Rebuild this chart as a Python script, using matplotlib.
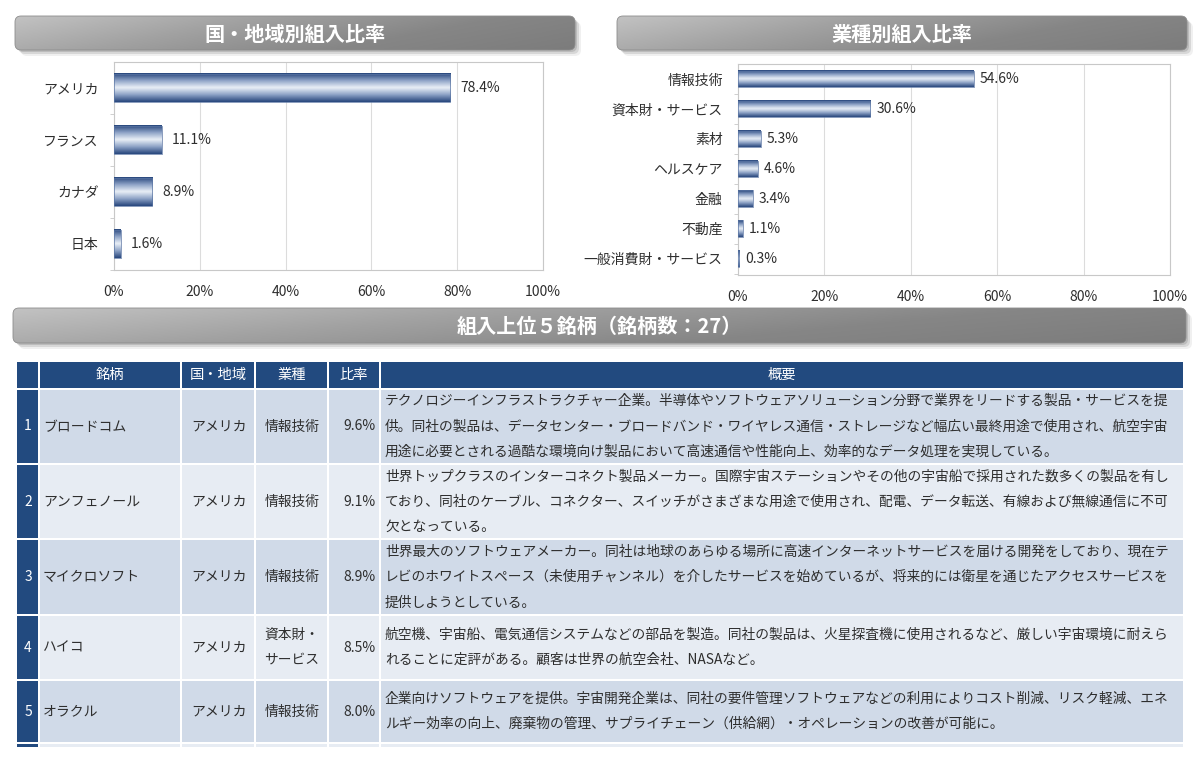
import numpy as np
import matplotlib
matplotlib.use("Agg")
import matplotlib.pyplot as plt
from matplotlib.colors import LinearSegmentedColormap
from matplotlib.patches import FancyBboxPatch, Rectangle
from matplotlib.ticker import FixedLocator, PercentFormatter

plt.rcParams['font.family'] = ['Noto Sans CJK JP', 'DejaVu Sans']

# data
regions = ['アメリカ', 'フランス', 'カナダ', '日本']
region_pct = [78.4, 11.1, 8.9, 1.6]

sectors = ['情報技術', '資本財・サービス', '素材', 'ヘルスケア', '金融', '不動産', '一般消費財・サービス']
sector_pct = [54.6, 30.6, 5.3, 4.6, 3.4, 1.1, 0.3]

top_names = ['ブロードコム', 'アンフェノール', 'マイクロソフト', 'ハイコ', 'オラクル']
top_countries = ['アメリカ', 'アメリカ', 'アメリカ', 'アメリカ', 'アメリカ']
top_sectors = ['情報技術', '情報技術', '情報技術', '資本財・\nサービス', '情報技術']
top_weights = [9.6, 9.1, 8.9, 8.5, 8.0]
top_desc = [
    ['テクノロジーインフラストラクチャー企業。半導体やソフトウェアソリューション分野で業界をリードする製品・サービスを提',
     '供。同社の製品は、データセンター・ブロードバンド・ワイヤレス通信・ストレージなど幅広い最終用途で使用され、航空宇宙',
     '用途に必要とされる過酷な環境向け製品において高速通信や性能向上、効率的なデータ処理を実現している。'],
    ['世界トップクラスのインターコネクト製品メーカー。国際宇宙ステーションやその他の宇宙船で採用された数多くの製品を有し',
     'ており、同社のケーブル、コネクター、スイッチがさまざまな用途で使用され、配電、データ転送、有線および無線通信に不可',
     '欠となっている。'],
    ['世界最大のソフトウェアメーカー。同社は地球のあらゆる場所に高速インターネットサービスを届ける開発をしており、現在テ',
     'レビのホワイトスペース（未使用チャンネル）を介したサービスを始めているが、将来的には衛星を通じたアクセスサービスを',
     '提供しようとしている。'],
    ['航空機、宇宙船、電気通信システムなどの部品を製造。同社の製品は、火星探査機に使用されるなど、厳しい宇宙環境に耐えら',
     'れることに定評がある。顧客は世界の航空会社、NASAなど。'],
    ['企業向けソフトウェアを提供。宇宙開発企業は、同社の要件管理ソフトウェアなどの利用によりコスト削減、リスク軽減、エネ',
     'ルギー効率の向上、廃棄物の管理、サプライチェーン（供給網）・オペレーションの改善が可能に。'],
]

W, H = 1200, 762
TXT = '#2e2e2e'
NAVY = '#224a7f'

fig = plt.figure(figsize=(W / 100, H / 100), dpi=100)
bg = fig.add_axes([0, 0, 1, 1])
bg.set_xlim(0, W)
bg.set_ylim(H, 0)
bg.axis('off')

gray_cmap = LinearSegmentedColormap.from_list('hdr', ['#c2c2c2', '#a2a2a2', '#868686', '#7c7c7c'])
bar_cmap = LinearSegmentedColormap.from_list('bar', ['#27467c', '#8da2c6', '#eaf0f7', '#8da2c6', '#27467c'])


def header(x0, y0, x1, y1, text):
    w, h = x1 - x0, y1 - y0
    for off, a in [(6, 0.06), (4, 0.10), (2, 0.12)]:
        bg.add_patch(FancyBboxPatch((x0 + off, y0 + off), w, h,
                                    boxstyle='round,pad=0,rounding_size=6',
                                    fc='black', ec='none', alpha=a, zorder=1))
    box = FancyBboxPatch((x0, y0), w, h, boxstyle='round,pad=0,rounding_size=6',
                         fc='none', ec='#8c8c8c', lw=0.6, zorder=3)
    bg.add_patch(box)
    gx = np.linspace(0, 1, 200)[None, :]
    gy = np.linspace(0, 1, 40)[:, None]
    img = 0.8 * gx + 0.25 * gy
    im = bg.imshow(img, extent=(x0, x1, y1, y0), cmap=gray_cmap, aspect='auto',
                   interpolation='bilinear', zorder=2, vmin=0, vmax=1.05)
    im.set_clip_path(box)
    bg.text((x0 + x1) / 2, (y0 + y1) / 2 + 1, text, color='white', fontsize=14.5,
            fontweight='bold', ha='center', va='center', zorder=4)


header(15, 16, 575, 50, '国・地域別組入比率')
header(617, 16, 1187, 50, '業種別組入比率')
header(13, 308, 1186, 343, '組入上位５銘柄（銘柄数：27）')
bg.set_xlim(0, W)
bg.set_ylim(H, 0)


def bar_chart(rect, cats, vals, ylim, pad_px):
    ax = fig.add_axes(rect)
    ax.set_facecolor('none')
    h = 0.55
    for i, v in enumerate(vals):
        ax.imshow(np.linspace(0, 1, 64)[:, None], extent=(0, v, i - h / 2, i + h / 2),
                  cmap=bar_cmap, aspect='auto', interpolation='bicubic', zorder=3)
        ax.add_patch(Rectangle((0, i - h / 2), v, h, fill=False, ec='#5a75a3', lw=0.5, zorder=4))
        ax.annotate(f'{v:.1f}%', (v, i), xytext=(pad_px, 0), textcoords='offset pixels',
                    ha='left', va='center', fontsize=10, color=TXT, zorder=5)
    ax.set_xlim(0, 100)
    ax.set_ylim(*ylim)
    ax.set_yticks(range(len(cats)))
    ax.set_yticklabels(cats)
    ax.yaxis.set_minor_locator(FixedLocator(np.arange(len(cats)) + 0.5))
    ax.tick_params(axis='y', which='major', length=0, pad=11, labelsize=10, labelcolor=TXT)
    ax.tick_params(axis='y', which='minor', length=3, color='#c8c8c8', direction='out')
    ax.set_xticks(np.arange(0, 101, 20))
    ax.xaxis.set_major_formatter(PercentFormatter(decimals=0))
    ax.tick_params(axis='x', length=0, pad=11, labelsize=10, labelcolor=TXT)
    ax.grid(axis='x', color='#dcdcdc', lw=0.8, zorder=0)
    ax.set_axisbelow(True)
    for s in ax.spines.values():
        s.set_color('#c8c8c8')
        s.set_linewidth(0.8)
    return ax


bar_chart([114 / W, 1 - 270 / H, 429 / W, 208 / H], regions, region_pct, (3.5, -0.5), 10)
bar_chart([738 / W, 1 - 275 / H, 432 / W, 211 / H], sectors, sector_pct, (6.55, -0.5), 6)

# table
col_l = [17, 40, 182, 256, 329, 381]
col_r = [38, 180, 254, 327, 379, 1183]
hdr_top, hdr_bot = 362, 388
row_tb = [(390, 463), (465, 538), (540, 614), (616, 679), (681, 742)]
row_fc = ['#d0dae8', '#e7ecf3', '#d0dae8', '#e7ecf3', '#d0dae8']
headers = ['', '銘柄', '国・地域', '業種', '比率', '概要']

for l, r, t in zip(col_l, col_r, headers):
    bg.add_patch(Rectangle((l, hdr_top), r - l, hdr_bot - hdr_top, fc=NAVY, ec='none', zorder=2))
    bg.text((l + r) / 2, (hdr_top + hdr_bot) / 2, t, color='white', fontsize=10.3,
            ha='center', va='center', zorder=3)

line_h = 25.3
for k, ((t, b), fc) in enumerate(zip(row_tb, row_fc)):
    cy = (t + b) / 2
    for j, (l, r) in enumerate(zip(col_l, col_r)):
        bg.add_patch(Rectangle((l, t), r - l, b - t, fc=NAVY if j == 0 else fc, ec='none', zorder=2))
    bg.text(28, cy, str(k + 1), color='white', fontsize=10, ha='center', va='center', zorder=3)
    bg.text(43, cy, top_names[k], color=TXT, fontsize=10, ha='left', va='center', zorder=3)
    bg.text(219, cy, top_countries[k], color=TXT, fontsize=10, ha='center', va='center', zorder=3)
    bg.text(292, cy, top_sectors[k], color=TXT, fontsize=9.9, ha='center', va='center',
            linespacing=2.0, zorder=3)
    bg.text(375, cy, f'{top_weights[k]:.1f}%', color=TXT, fontsize=10, ha='right', va='center', zorder=3)
    lines = top_desc[k]
    y0 = cy - (len(lines) - 1) * line_h / 2
    for n, ln in enumerate(lines):
        bg.text(385, y0 + n * line_h, ln, color=TXT, fontsize=9.9, ha='left', va='center', zorder=3)

# partial next row strip
for j, (l, r) in enumerate(zip(col_l, col_r)):
    bg.add_patch(Rectangle((l, 744), r - l, 3, fc=NAVY if j == 0 else '#e7ecf3', ec='none', zorder=2))

fig.savefig('out.png', dpi=100, facecolor='white')
